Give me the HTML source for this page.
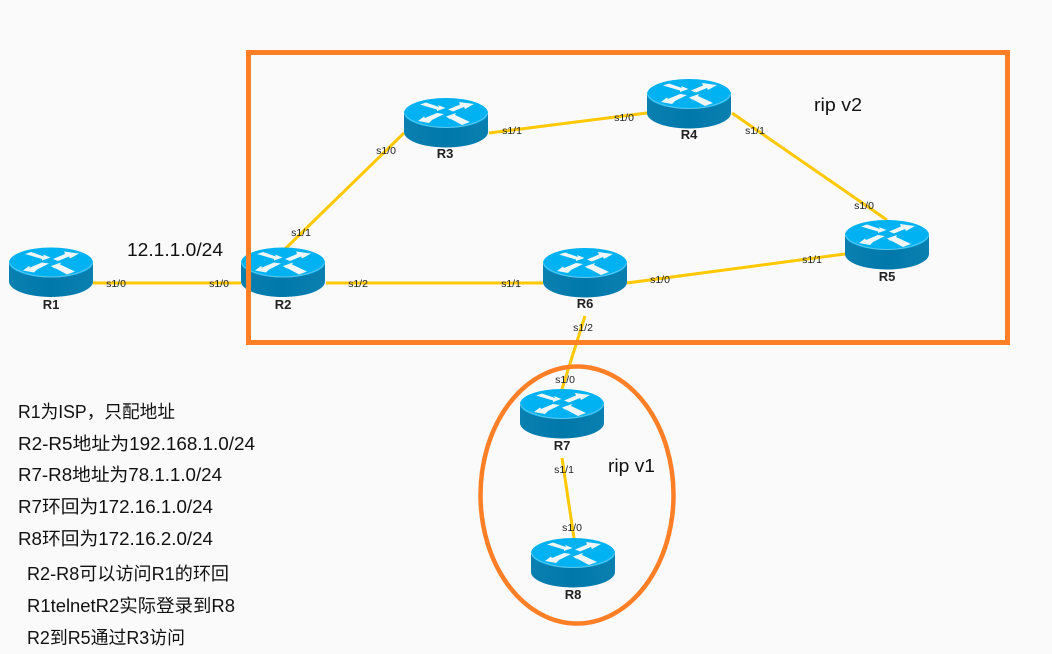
<!DOCTYPE html>
<html><head><meta charset="utf-8"><style>
html,body{margin:0;padding:0;background:#fafafa;width:1052px;height:654px;overflow:hidden}
svg{display:block}
.p{font:10.500px "Liberation Sans",sans-serif;fill:#222;text-anchor:middle}
.n{font:bold 13px "Liberation Sans",sans-serif;fill:#222;text-anchor:middle}
.t{font-family:"Liberation Sans","Noto Sans CJK SC",sans-serif;font-size:18px;fill:#111}
.l{stroke:#ffc800;stroke-width:3;fill:none}
</style></head><body>
<svg width="1052" height="654" viewBox="0 0 1052 654" xmlns="http://www.w3.org/2000/svg">
<defs>
<linearGradient id="s" x1="0" x2="1" y1="0" y2="0"><stop offset="0" stop-color="#0a80b0"/><stop offset=".5" stop-color="#0078aa"/><stop offset="1" stop-color="#0a80b0"/></linearGradient>
<g id="r">
<path d="M0 15V34C0 42.500 18.800 49.500 42 49.500S84 42.500 84 34V15Z" fill="url(#s)"/>
<ellipse cx="42" cy="15" rx="42" ry="15" fill="#00b2f2"/>
<path d="M0.500 15C2 22 20 29.500 42 29.500S82 22 83.500 15" fill="none" stroke="#5cc6ea" stroke-width="1"/>
<g fill="#eef6fa">
<polygon points="16,6.500 22,4.500 35,9 34,7 41.500,10 33,13 33,11.500"/>
<polygon points="44,11.500 56,6.500 55,4 70,6 61,11 60,9 49,13.500"/>
<polygon points="14,23 20,18.500 21,20 33,15 40,16 28,22 25,25"/>
<polygon points="42,18.500 52,15 51,17 66,24 58,27 45,20 47,22"/>
</g>
</g>
</defs>
<rect width="1052" height="654" fill="#fafafa"/>
<line class="l" x1="93" y1="283" x2="241" y2="283"/>
<line class="l" x1="284" y1="250" x2="404" y2="133"/>
<line class="l" x1="489" y1="133" x2="647" y2="113"/>
<line class="l" x1="732" y1="113" x2="887" y2="220"/>
<line class="l" x1="627" y1="283" x2="845" y2="254"/>
<line class="l" x1="326" y1="283" x2="543" y2="283"/>
<line class="l" x1="585" y1="316" x2="562" y2="389"/>
<line class="l" x1="562" y1="458" x2="574" y2="538"/>
<use href="#r" x="9" y="247.500"/>
<use href="#r" x="241" y="247.500"/>
<use href="#r" x="404" y="98"/>
<use href="#r" x="647" y="79"/>
<use href="#r" x="845" y="220"/>
<use href="#r" x="543" y="248"/>
<use href="#r" x="520" y="389"/>
<use href="#r" x="531" y="538"/>
<rect x="248.500" y="52.500" width="759" height="290" fill="none" stroke="#ff7f27" stroke-width="5"/>
<ellipse cx="577" cy="495" rx="96.500" ry="128.500" fill="none" stroke="#ff7f27" stroke-width="4.500"/>
<text class="n" x="51" y="309">R1</text>
<text class="n" x="283" y="309">R2</text>
<text class="n" x="445" y="158">R3</text>
<text class="n" x="689" y="139">R4</text>
<text class="n" x="887" y="281">R5</text>
<text class="n" x="585" y="308">R6</text>
<text class="n" x="562" y="450">R7</text>
<text class="n" x="573" y="599">R8</text>
<text class="p" x="116" y="287">s1/0</text>
<text class="p" x="219" y="287">s1/0</text>
<text class="p" x="301" y="236">s1/1</text>
<text class="p" x="386" y="154">s1/0</text>
<text class="p" x="512" y="134">s1/1</text>
<text class="p" x="624" y="121">s1/0</text>
<text class="p" x="755" y="134">s1/1</text>
<text class="p" x="864" y="209">s1/0</text>
<text class="p" x="812" y="263">s1/1</text>
<text class="p" x="660" y="283">s1/0</text>
<text class="p" x="358" y="287">s1/2</text>
<text class="p" x="511" y="287">s1/1</text>
<text class="p" x="583" y="331">s1/2</text>
<text class="p" x="565" y="383">s1/0</text>
<text class="p" x="564" y="473">s1/1</text>
<text class="p" x="572" y="531">s1/0</text>
<text class="t" x="127" y="256" textLength="96" lengthAdjust="spacingAndGlyphs">12.1.1.0/24</text>
<text class="t" x="814" y="111" textLength="48" lengthAdjust="spacingAndGlyphs">rip v2</text>
<text class="t" x="608" y="472" textLength="47" lengthAdjust="spacingAndGlyphs">rip v1</text>
<text class="t" x="18" y="418" textLength="157" lengthAdjust="spacingAndGlyphs">R1为ISP，只配地址</text>
<text class="t" x="18" y="450" textLength="237" lengthAdjust="spacingAndGlyphs">R2-R5地址为192.168.1.0/24</text>
<text class="t" x="18" y="481" textLength="204" lengthAdjust="spacingAndGlyphs">R7-R8地址为78.1.1.0/24</text>
<text class="t" x="18" y="513" textLength="195" lengthAdjust="spacingAndGlyphs">R7环回为172.16.1.0/24</text>
<text class="t" x="18" y="545" textLength="195" lengthAdjust="spacingAndGlyphs">R8环回为172.16.2.0/24</text>
<text class="t" x="27" y="580" textLength="202" lengthAdjust="spacingAndGlyphs">R2-R8可以访问R1的环回</text>
<text class="t" x="27" y="612" textLength="208" lengthAdjust="spacingAndGlyphs">R1telnetR2实际登录到R8</text>
<text class="t" x="27" y="644" textLength="158" lengthAdjust="spacingAndGlyphs">R2到R5通过R3访问</text>
</svg>
</body></html>
